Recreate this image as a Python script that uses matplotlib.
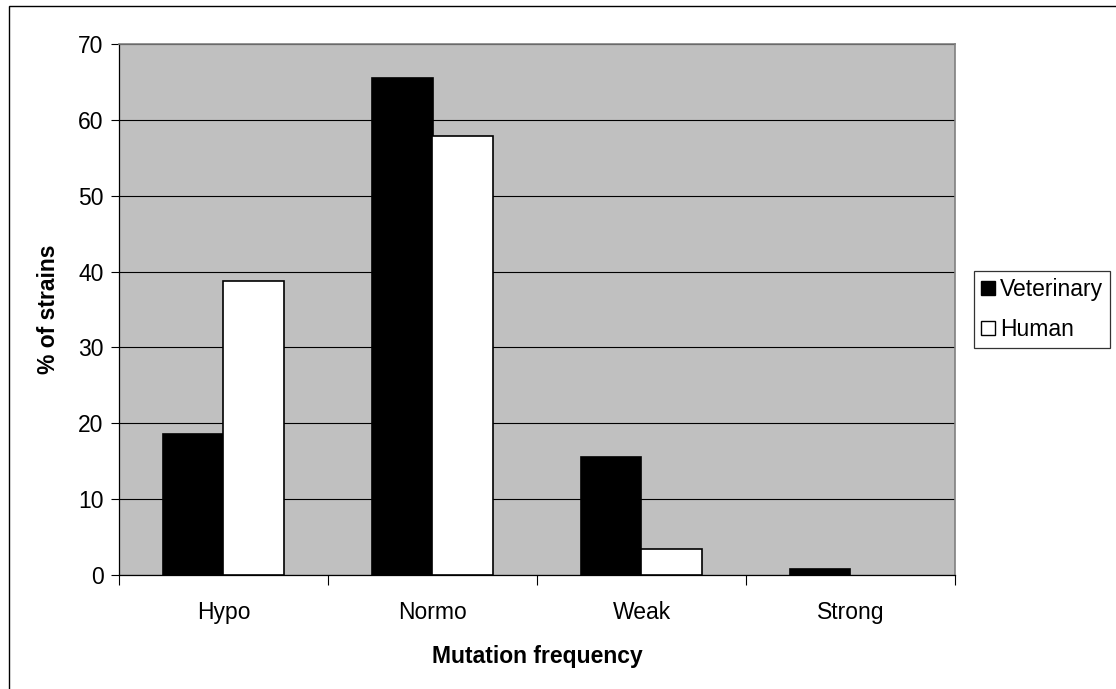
import matplotlib
matplotlib.use("Agg")
import matplotlib.pyplot as plt
import numpy as np
from matplotlib.patches import Rectangle
from matplotlib.lines import Line2D

categories = ["Hypo", "Normo", "Weak", "Strong"]
veterinary = [18.6, 65.5, 15.6, 0.8]
human = [38.7, 57.9, 3.4, 0.0]
yticks = [0, 10, 20, 30, 40, 50, 60, 70]

plt.rcParams['font.family'] = ['Liberation Sans', 'DejaVu Sans']

fig = plt.figure(figsize=(11.16, 6.89), dpi=100)
W, H = 1116, 689

# outer chart border
fig.patches.append(Rectangle((9 / W, -0.1), 1.2, 1 - 6 / H + 0.1, transform=fig.transFigure,
                             fill=False, edgecolor="black", linewidth=1.0))

ax = fig.add_axes([119 / W, 1 - 575 / H, (955 - 119) / W, (575 - 44) / H])
ax.set_facecolor("#C0C0C0")

x = np.arange(len(categories))
bw = 0.29
ax.bar(x - bw / 2, veterinary, bw, color="black", edgecolor="black",
       linewidth=[1.2 if v > 0 else 0 for v in veterinary], label="Veterinary", zorder=3)
ax.bar(x + bw / 2, human, bw, color="white", edgecolor="black",
       linewidth=[1.2 if v > 0 else 0 for v in human], label="Human", zorder=3)

ax.set_xlim(-0.5, len(categories) - 0.5)
ax.set_ylim(0, 70)
ax.set_yticks(yticks)
ax.set_yticklabels([str(v) for v in yticks], fontsize=16.5)
ax.yaxis.grid(True, color="black", linewidth=0.8, zorder=1)
ax.set_axisbelow(True)

ax.set_xticks(x)
ax.set_xticklabels(categories, fontsize=16.5)
ax.tick_params(axis="x", length=0, pad=19)
ax.set_xticks(np.arange(-0.5, len(categories)), minor=True)
ax.tick_params(axis="x", which="minor", length=7, width=0.8, direction="out")
ax.tick_params(axis="y", length=6, width=0.8, direction="out", pad=5)

for s in ["left", "bottom"]:
    ax.spines[s].set_color("black")
    ax.spines[s].set_linewidth(0.9)
for s in ["top", "right"]:
    ax.spines[s].set_color("#808080")
    ax.spines[s].set_linewidth(1.2)

ax.set_xlabel("Mutation frequency", fontsize=16.5, fontweight="bold", labelpad=15)
ax.set_ylabel("% of strains", fontsize=16.5, fontweight="bold", labelpad=13)

handles = [
    Line2D([], [], marker="s", linestyle="none", markersize=10, markerfacecolor="black",
           markeredgecolor="black"),
    Line2D([], [], marker="s", linestyle="none", markersize=10, markerfacecolor="white",
           markeredgecolor="black"),
]
leg = fig.legend(handles, ["Veterinary", "Human"], loc="upper left",
                 bbox_to_anchor=(974 / W, 1 - 271 / H), fontsize=16.5, frameon=True,
                 fancybox=False, edgecolor="black", handlelength=0.6, handletextpad=0.25,
                 borderpad=0.3, labelspacing=0.75, borderaxespad=0)
leg.get_frame().set_linewidth(0.9)

fig.savefig("out.png", dpi=100)
